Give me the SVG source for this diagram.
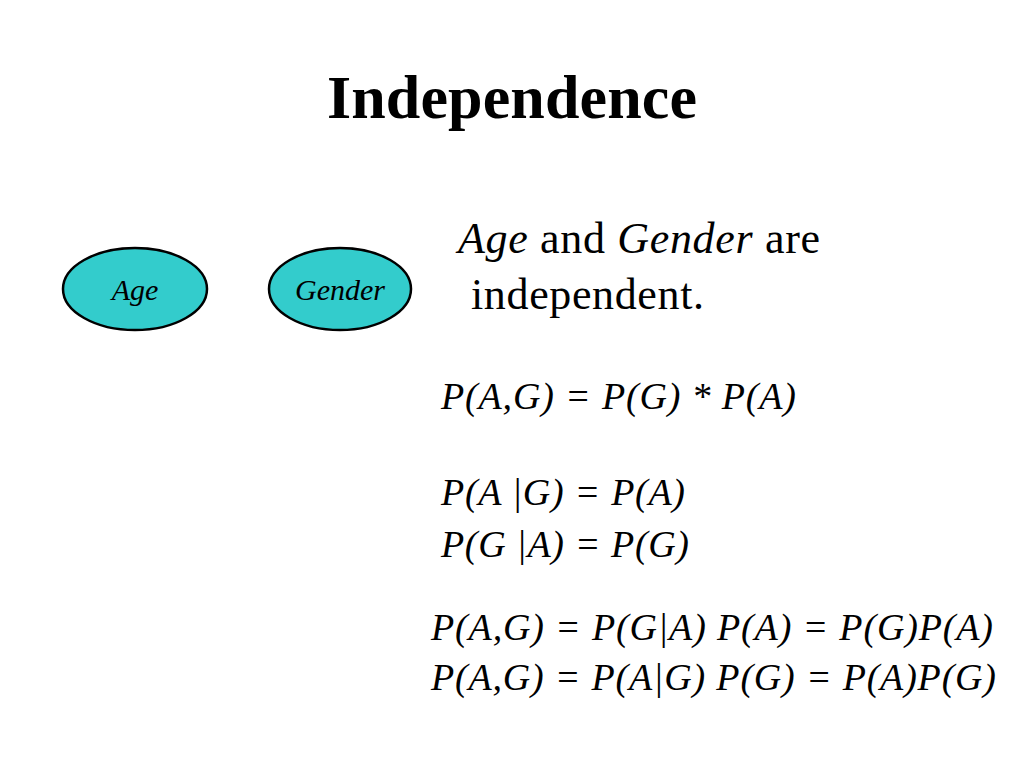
<svg xmlns="http://www.w3.org/2000/svg" width="1024" height="768" viewBox="0 0 1024 768">
<style>
.t{font-family:"Liberation Serif","Times New Roman",serif;fill:#000}
.node{fill:#33CCCC;stroke:#000;stroke-width:2.5}
.f{font-family:"Liberation Serif",serif;font-style:italic;font-size:38px}
</style>
<rect width="1024" height="768" fill="#fff"/>
<text class="t" x="327" y="118" font-size="62" font-weight="bold" textLength="370">Independence</text>
<g id="age"><ellipse class="node" cx="135" cy="289" rx="72" ry="41"/><text class="t" x="135" y="300" text-anchor="middle" font-size="30" font-style="italic">Age</text></g>
<g id="gender"><ellipse class="node" cx="340" cy="289" rx="71" ry="41"/><text class="t" x="340" y="300" text-anchor="middle" font-size="30" font-style="italic">Gender</text></g>
<g id="connectors"/>
<text class="t" x="458" y="253" font-size="44" textLength="362"><tspan font-style="italic">Age</tspan> and <tspan font-style="italic">Gender</tspan> are</text>
<text class="t" x="471" y="309" font-size="44" textLength="233">independent.</text>
<text class="t f" x="441" y="409" textLength="355">P(A,G) = P(G) * P(A)</text>
<text class="t f" x="441" y="505" textLength="244">P(A |G) = P(A)</text>
<text class="t f" x="441" y="557" textLength="248">P(G |A) = P(G)</text>
<text class="t f" x="431" y="640" textLength="562">P(A,G) = P(G|A) P(A) = P(G)P(A)</text>
<text class="t f" x="431" y="690" textLength="565">P(A,G) = P(A|G) P(G) = P(A)P(G)</text>
</svg>
